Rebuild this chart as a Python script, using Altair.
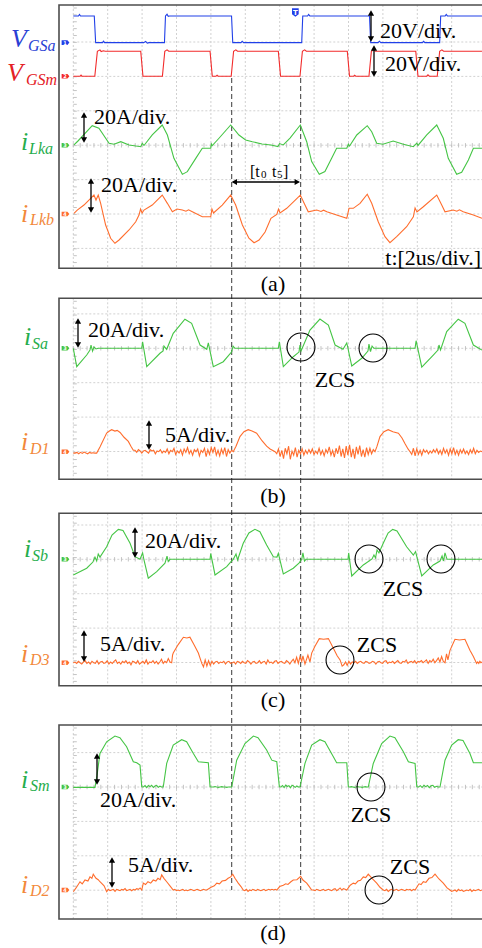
import altair as alt
import pandas as pd

# ===================== DATA: scope readings (time in µs, 2 µs/div) =====================
# gate voltages (V, 20 V/div)
VGSA = [(0, 15.5), (0.30, 15.5), (0.36, 16.4), (0.42, 15.5), (1.22, 15.5), (1.30, 0), (1.70, 0), (1.76, 0.8),
        (1.82, 0), (4.10, 0), (4.20, 0.7), (4.30, -0.3), (4.40, 0), (5.30, 0), (5.36, 15.5), (5.45, 16.5),
        (5.52, 15.3), (5.60, 15.5), (9.20, 15.5), (9.27, 0), (9.75, 0), (9.82, 0.8), (9.90, 0), (13.28, 0),
        (13.34, 15.5), (13.62, 15.5), (13.68, 16.4), (13.75, 15.5), (17.22, 15.5), (17.29, 0), (17.72, 0),
        (17.80, 0.8), (17.88, 0), (20.30, 0), (20.37, 0.7), (20.44, 0), (21.30, 0), (21.36, 15.5),
        (21.62, 15.5), (21.68, 16.4), (21.75, 15.5), (23.76, 15.5)]
VGSM = [(0, 0), (0.40, 0), (0.45, 0.6), (0.50, 0), (1.25, 0), (1.40, 14.5), (1.55, 15.3), (1.62, 14.3),
        (1.75, 14.8), (1.85, 14.5), (3.92, 14.5), (4.05, 0), (5.18, 0), (5.32, 14.5), (5.45, 15.3),
        (5.55, 14.5), (7.95, 14.5), (8.08, 0), (8.30, 0), (8.36, 0.6), (8.42, 0), (9.18, 0), (9.32, 14.5),
        (9.45, 15.3), (9.55, 14.5), (11.92, 14.5), (12.05, 0), (13.18, 0), (13.32, 14.5), (13.45, 15.3),
        (13.55, 14.5), (15.93, 14.5), (16.06, 0), (16.30, 0), (16.36, 0.6), (16.42, 0), (17.19, 0),
        (17.33, 14.5), (17.46, 15.3), (17.56, 14.5), (19.91, 14.5), (20.04, 0), (20.55, 0), (20.62, 0.8),
        (20.70, 0), (21.16, 0), (21.30, 14.5), (21.43, 15.3), (21.53, 14.5), (23.76, 14.5)]
# resonant inductor currents (A, 20 A/div)
ILKA = [(0.04, 0.2), (0.27, 2.5), (1.10, 11.4), (1.49, 9.9), (2.08, 1.2), (2.37, 0.6), (2.76, 2.1), (3.24, 0.2),
        (3.92, -0.8), (4.01, 1.2), (4.11, -0.1), (4.59, 6.0), (5.17, 11.8), (5.47, 6.0), (5.85, -7.6),
        (6.34, -16.9), (6.63, -15.3), (7.12, -7.6), (7.50, -1.7), (7.99, -1.7), (8.03, 0.8), (8.08, -0.2),
        (8.47, 4.1), (9.15, 11.8), (9.63, 6.0), (10.02, 3.1), (10.41, 2.1), (10.97, 0.8), (11.49, 0.2),
        (11.90, -0.7), (11.99, 1.0), (12.21, 0.2), (12.60, 4.2), (13.20, 11.8), (13.57, 2.1), (13.86, -9.5),
        (14.30, -16.9), (14.63, -15.3), (15.02, -7.6), (15.31, -1.7), (15.90, -1.7), (15.99, 0.6),
        (16.06, -0.4), (16.48, 6.0), (17.09, 11.4), (17.35, 7.9), (17.64, 1.2), (18.00, 0.6), (18.60, 2.5),
        (19.19, 0.6), (19.77, -0.8), (19.97, 1.2), (20.04, -0.1), (20.55, 6.0), (21.13, 11.8), (21.51, 4.1),
        (21.80, -7.6), (22.29, -16.9), (22.58, -15.7), (22.97, -8.5), (23.26, -1.7), (23.76, -1.7)]
ILKB = [(0.04, 0.4), (0.23, 2.3), (0.62, 5.2), (1.01, 9.1), (1.20, 11.0), (1.32, 8.1), (1.45, 11.0), (1.59, 6.2),
        (1.88, -6.4), (2.17, -14.1), (2.42, -17.0), (2.66, -15.1), (3.24, -9.3), (3.63, -4.5), (3.82, -0.6),
        (3.91, 2.9), (4.00, 0.6), (4.11, 2.3), (4.59, 5.2), (5.17, 11.0), (5.47, 6.2), (5.76, 1.3), (6.03, 2.9),
        (6.34, 2.3), (6.55, 1.6), (6.70, 2.4), (6.92, 1.3), (7.50, -1.6), (7.99, -1.6), (8.06, 2.9), (8.15, 0.6),
        (8.66, 5.2), (9.15, 11.0), (9.44, 5.2), (9.83, -6.4), (10.21, -14.1), (10.51, -16.7), (10.80, -15.1),
        (11.15, -10.5), (11.49, -2.5), (11.83, -0.2), (11.93, 2.9), (12.02, 0.6), (12.41, 3.3), (13.20, 11.0),
        (13.47, 5.2), (13.66, 1.3), (14.15, 2.3), (14.40, 1.5), (14.55, 2.2), (14.74, 1.3), (15.31, -0.6),
        (15.90, -2.5), (16.03, 3.3), (16.28, 3.3), (16.67, 6.2), (17.09, 11.5), (17.35, 6.2), (17.73, -4.5),
        (18.12, -13.2), (18.41, -16.7), (18.80, -13.2), (19.38, -7.4), (19.77, -1.6), (19.87, 3.5),
        (19.98, 1.2), (20.35, 4.2), (21.13, 11.0), (21.42, 5.2), (21.61, 1.3), (22.09, 2.3), (22.30, 1.6),
        (22.45, 2.4), (22.67, 1.3), (23.26, -0.6), (23.76, -2.5)]
# switch currents (A, 20 A/div)
ISA = [(0, 0), (0.20, -10.7), (0.78, -3.9), (0.97, -1.0), (1.03, 1.9), (1.12, -1.6), (1.20, 0.8), (1.32, -0.4),
       (1.45, 0), (3.98, 0), (4.03, 3.8), (4.27, -10.7), (5.04, -2.9), (5.22, -1.6), (5.27, 1.3), (5.43, -0.6),
       (5.81, 8.7), (6.49, 16.9), (6.88, 14.5), (7.37, 1.9), (7.76, -0.6), (7.85, 3.1), (8.14, -10.7),
       (8.72, -7.8), (9.21, -2.0), (9.29, 1.3), (9.40, 0), (11.92, 0), (11.98, 3.8), (12.21, -10.7),
       (12.79, -4.9), (13.12, -2.2), (13.18, 1.9), (13.24, -1.6), (13.76, 10.6), (14.34, 17.0), (14.83, 13.5),
       (15.22, 1.9), (15.68, -0.6), (15.90, 3.1), (16.19, -10.3), (16.77, -5.8), (17.13, -1.6), (17.19, 2.5),
       (17.28, -1.9), (17.37, 1.3), (17.48, 0), (19.87, 0), (19.93, 4.4), (20.26, -11.0), (20.93, -3.9),
       (21.20, -1.0), (21.26, 1.9), (21.35, -1.0), (21.71, 9.7), (22.38, 16.9), (22.77, 14.5), (23.26, 1.9),
       (23.76, -1.0)]
ISB = [(0, -9.1), (0.78, -5.2), (1.14, -1.6), (1.26, 1.3), (1.36, -1.0), (1.45, 3.1), (1.55, 1.3), (1.94, 7.3),
       (2.25, 14.1), (2.62, 17.4), (2.89, 16.7), (3.30, 9.3), (3.59, 1.5), (3.88, 0), (4.03, 3.7), (4.11, -0.4),
       (4.36, -11.0), (4.85, -7.2), (5.33, -2.3), (5.45, 1.9), (5.52, -1.3), (5.62, 0), (7.95, 0), (7.99, 3.4),
       (8.24, -9.1), (8.92, -4.3), (9.17, -1.3), (9.30, 0), (9.46, 3.1), (9.55, -0.4), (9.88, 9.3),
       (10.21, 15.3), (10.56, 17.4), (10.85, 16.0), (11.24, 8.3), (11.63, 1.5), (11.84, 1.3), (11.92, 3.4),
       (12.21, -8.5), (12.79, -5.2), (13.12, -2.2), (13.28, 0), (13.35, 3.7), (13.44, -1.0), (13.53, 0),
       (15.97, 0), (16.01, 3.7), (16.19, -9.7), (16.86, -3.3), (17.37, 0.2), (17.48, 2.5), (17.57, 0.8),
       (17.66, 5.4), (17.77, 3.7), (18.02, 9.3), (18.30, 15.3), (18.57, 17.4), (18.82, 16.5), (19.38, 7.3),
       (19.77, 2.5), (19.90, 4.5), (19.98, 1.3), (20.26, -9.7), (20.93, -3.3), (21.32, -1.0), (21.44, 1.9),
       (21.52, -1.0), (21.61, 3.7), (21.73, 0), (23.76, 0)]
ISM = [(0, -0.2), (1.26, -0.2), (1.38, 6.9), (1.55, 19.5), (1.94, 26.3), (2.42, 29.6), (2.71, 28.7), (3.10, 23.4),
       (3.49, 14.7), (3.69, 14.1), (3.88, 12.7), (3.98, 0.1), (5.23, 0), (5.43, 13.7), (5.81, 24.4), (6.30, 27.5),
       (6.59, 26.3), (6.98, 19.5), (7.27, 14.7), (7.85, 14.1), (7.95, 0.1), (9.21, 0), (9.50, 15.6), (9.98, 25.3),
       (10.47, 29.6), (10.74, 28.7), (11.24, 21.5), (11.54, 15.6), (11.83, 14.7), (11.98, 0.1), (13.18, 0),
       (13.47, 13.7), (13.86, 24.4), (14.34, 27.5), (14.63, 26.3), (15.12, 17.6), (15.31, 14.1), (15.90, 14.1),
       (15.99, 0.1), (17.15, 0), (17.44, 13.7), (17.93, 25.3), (18.41, 29.6), (18.70, 28.7), (19.19, 20.5),
       (19.48, 14.7), (19.87, 13.7), (19.97, 0.1), (21.32, 0), (21.61, 15.6), (22.00, 24.4), (22.38, 27.5),
       (22.66, 27.0), (23.06, 19.5), (23.26, 14.1), (23.76, 14.1)]
ISM_NOISE = [(3.98, 5.23, [0.0, 0.8, -0.4, 0.9, 0.2, 1.0, -0.3, 0.6, 0.9, -0.2, 0.5, 0.0]),
             (7.95, 9.21, [0.0, 0.0, 0.3, 0.0, -0.2, 0.0, 0.2, 0.0, 0.0, -0.2, 0.0, 0.0]),
             (11.98, 13.18, [0.0, 0.9, -0.3, 1.1, 0.3, 0.8, -0.4, 1.0, 0.5, -0.2, 0.6, 0.0]),
             (15.99, 17.15, [0.0, 0.2, 0.0, -0.2, 0.0, 0.3, 0.0, 0.0, -0.2, 0.0, 0.2, 0.0]),
             (19.97, 21.32, [0.0, 0.8, -0.3, 1.0, 0.2, 0.9, -0.4, 0.7, 1.0, -0.2, 0.4, 0.0])]
# diode currents (A, 5 A/div)
ID1 = [(0, -0.2), (1.36, -0.2), (1.55, 0.7), (1.94, 2.7), (2.10, 3.0), (2.23, 3.2), (2.42, 3.0), (2.55, 3.1),
       (2.72, 2.8), (2.95, 2.1), (3.20, 1.5), (3.35, 0.8), (3.49, 0.2), (9.30, 0), (9.46, 0.8), (9.69, 2.2),
       (9.92, 2.9), (10.17, 3.2), (10.39, 3.0), (10.66, 2.7), (10.97, 1.6), (11.24, 0.8), (11.44, 0.4),
       (11.73, 0), (17.54, 0), (17.66, 0.8), (17.83, 2.2), (18.06, 2.9), (18.31, 3.2), (18.58, 2.9),
       (18.90, 2.7), (19.11, 2.0), (19.28, 1.2), (19.46, 0.4), (19.58, 0), (23.76, 0)]
ID1_NOISE = [
    (0.0, 1.36, [-0.2, -0.1, -0.3, -0.1, -0.25, -0.05, -0.2, -0.3, -0.1, -0.2, -0.15, -0.2]),
    (3.49, 9.30, [0.2, -0.1, 0.3, 0.1, -0.2, 0.1, 0.2, 0.0, -0.2, 0.3, 0.1, 0.2, -0.3, 0.1, 0.0, 0.3, -0.2,
                  0.1, -0.1, 0.4, -0.3, 0.2, 0.0, 0.5, -0.4, 0.1, -0.2, 0.3, -0.5, 0.4, -0.1, 0.6, -0.3, 0.2,
                  -0.5, 0.3, 0.0, 0.4, -0.6, 0.2, -0.1, 0.5, -0.7, 0.3, -0.4, 0.6, -0.1, 0.7, -0.5, 0.2, -0.6,
                  0.4, -0.3, 0.6, -0.7, 0.3, -0.2, 0.2]),
    (11.73, 17.54, [-0.3, 0.4, -0.7, 0.2, -1.0, 0.5, -0.3, 0.8, -1.1, 0.1, -0.5, 0.6, -0.8, 0.2, -0.3, 0.4, -0.5,
                    0.2, -0.3, 0.3, -0.2, 0.4, -0.4, 0.1, -0.3, 0.5, -0.4, 0.2, -0.6, 0.3, -0.2, 0.7, -0.5, 0.2,
                    -0.8, 0.5, -0.3, 0.9, -0.7, 0.4, -0.9, 0.8, -0.5, 1.0, -0.8, 0.4, -1.0, 0.7, -0.4, 0.9, -0.7,
                    0.3, -0.8, 0.6, -0.4, 0.5, -0.3, 0.3]),
    (19.58, 23.76, [-0.4, 0.5, -0.6, 0.4, -0.4, 0.2, -0.5, 0.3, -0.1, 0.2, -0.3, 0.1, -0.2, 0.3, -0.1, 0.4, -0.3,
                    0.2, -0.4, 0.5, -0.2, 0.3, -0.5, 0.4, -0.3, 0.6, -0.4, 0.2, -0.5, 0.3, -0.2, 0.4, -0.3, 0.1,
                    -0.4, 0.3, -0.2, 0.5, -0.3, 0.2, -0.1, 0.1])]
ID3 = [(0, 0), (5.72, 0), (5.77, 1.1), (5.81, 1.4), (6.09, 2.6), (6.40, 3.7), (6.60, 3.6), (6.78, 3.7),
       (7.02, 2.6), (7.27, 1.4), (7.47, -0.1), (13.28, 0.2), (13.35, 1.0), (13.47, -0.2), (13.64, 1.1),
       (13.76, 0.1), (13.86, 1.4), (14.05, 2.4), (14.30, 3.5), (14.55, 3.4), (14.83, 3.5), (15.12, 2.1),
       (15.34, 1.0), (15.51, 0.4), (15.63, -0.5), (21.61, 0), (21.70, 1.3), (21.78, 0.4), (21.90, 1.8),
       (22.19, 3.4), (22.45, 3.3), (22.77, 3.4), (23.06, 1.8), (23.26, 0.9), (23.45, -0.1), (23.76, 0.1)]
ID3_NOISE = [
    (0.0, 5.72, [0.1, -0.1, 0.2, 0.0, -0.2, 0.1, 0.3, -0.1, 0.1, -0.2, 0.2, 0.0, -0.1, 0.3, -0.2, 0.1, 0.2, -0.1,
                 0.0, 0.3, -0.2, 0.1, -0.1, 0.2, 0.4, -0.1, 0.1, -0.2, 0.2, 0.0, 0.3, -0.1, 0.1, -0.3, 0.2, 0.1,
                 -0.1, 0.3, -0.2, 0.0, 0.2, -0.1, 0.4, -0.2, 0.1, 0.0, 0.3, -0.1, 0.2, -0.2, 0.1, 0.5, -0.1, 0.2,
                 0.0, 0.6, 0.1]),
    (7.47, 13.28, [-0.6, 0.4, -0.5, 0.3, -0.4, 0.2, -0.2, 0.1, 0.2, -0.1, 0.1, 0.0, 0.2, -0.2, 0.1, 0.2, -0.1, 0.0,
                   0.1, -0.2, 0.2, 0.1, -0.1, 0.2, 0.0, -0.1, 0.3, 0.1, -0.2, 0.1, 0.2, -0.1, 0.0, 0.3, -0.1, 0.1,
                   0.2, -0.2, 0.4, 0.0, 0.1, -0.1, 0.2, 0.3, -0.1, 0.1, 0.2, 0.0, -0.1, 0.3, 0.1, -0.2, 0.2, 0.5,
                   0.0, 0.8, -0.1, 0.9]),
    (15.63, 21.61, [-0.3, 0.1, -0.4, 0.2, -0.2, 0.1, 0.0, 0.2, -0.1, 0.1, 0.2, 0.0, -0.1, 0.2, 0.1, -0.1, 0.0,
                    0.2, 0.1, -0.2, 0.1, 0.2, 0.0, -0.1, 0.2, 0.3, -0.1, 0.1, 0.0, 0.2, -0.1, 0.1, 0.3, 0.0, -0.1,
                    0.2, 0.1, 0.4, -0.1, 0.1, 0.2, 0.0, 0.3, -0.1, 0.2, 0.1, 0.3, 0.0, 0.2, 0.4, -0.1, 0.3, 0.1,
                    0.5, 0.0, 0.3, 0.7, 0.1, 0.9, 0.2]),
    (23.45, 23.76, [0.1, -0.1, 0.2, 0.0])]
ID2 = [(0, -0.25), (0.16, 0.3), (0.39, 1.2), (0.52, 0.9), (0.68, 1.45), (0.85, 1.3), (0.97, 1.9), (1.08, 1.7),
       (1.16, 2.3), (1.32, 1.7), (1.45, 1.5), (1.55, 1.2), (1.79, 0.6), (1.94, -0.25), (3.98, 0), (4.07, 1.0),
       (4.20, 0.8), (4.34, 1.2), (4.50, 1.0), (4.65, 1.45), (4.80, 1.3), (4.92, 1.7), (5.05, 1.5), (5.14, 2.2),
       (5.27, 1.7), (5.43, 1.2), (5.62, 0.6), (5.81, 0), (7.76, 0), (8.01, 0.4), (8.20, 0.6), (8.34, 1.0),
       (8.50, 0.9), (8.65, 1.3), (8.85, 1.4), (9.00, 1.7), (9.15, 1.9), (9.27, 2.3), (9.40, 1.7), (9.59, 1.0),
       (9.75, 0.5), (9.88, 0), (11.83, 0), (12.00, 0.5), (12.21, 0.7), (12.35, 0.9), (12.48, 0.8),
       (12.65, 1.2), (12.79, 1.45), (13.00, 1.5), (13.22, 2.0), (13.35, 1.45), (13.57, 1.0), (13.72, 0.5),
       (13.86, 0), (15.90, 0), (16.10, 0.7), (16.28, 1.0), (16.40, 0.9), (16.55, 1.3), (16.70, 1.4),
       (16.86, 1.9), (17.00, 1.8), (17.15, 2.3), (17.37, 1.7), (17.64, 1.0), (17.83, 0.4), (18.02, 0),
       (19.87, 0), (20.10, 0.9), (20.22, 0.8), (20.35, 1.2), (20.50, 1.1), (20.68, 1.7), (20.85, 1.8),
       (21.03, 2.3), (21.26, 1.6), (21.51, 1.0), (21.73, 0.3), (21.90, 0), (23.76, 0)]
ID2_NOISE = [
    (1.94, 3.98, [0.1, -0.1, 0.0, 0.1, -0.2, 0.1, 0.0, -0.1, 0.1, 0.0, 0.2, -0.1, 0.0, 0.1, -0.1, 0.1, 0.0, 0.2, 0.1, 0.3]),
    (5.81, 7.76, [0.1, -0.1, 0.0, -0.1, 0.0, 0.1, -0.1, 0.0, -0.1, 0.0, 0.1, 0.0, -0.1, 0.0, 0.1, 0.0, -0.1, 0.0, 0.1, 0.0]),
    (9.88, 11.83, [-0.1, 0.1, -0.2, 0.0, -0.1, 0.1, 0.0, -0.1, 0.1, 0.0, -0.1, 0.0, 0.1, -0.1, 0.0, 0.1, 0.0, 0.1, 0.0, 0.1]),
    (13.86, 15.90, [0.0, -0.1, 0.1, 0.0, -0.1, 0.0, 0.1, -0.1, 0.0, 0.1, 0.0, -0.1, 0.1, 0.2, -0.1, 0.1, 0.3, 0.0, 0.2, 0.1]),
    (18.02, 19.87, [-0.1, 0.1, -0.2, 0.0, 0.1, -0.1, 0.0, 0.1, -0.1, 0.0, 0.1, 0.0, -0.1, 0.1, 0.0, 0.1, -0.1, 0.1]),
    (21.90, 23.76, [-0.2, -0.1, 0.0, -0.2, 0.1, -0.1, 0.0, -0.2, -0.1, 0.0, -0.1, 0.1, -0.2, 0.0, -0.1, 0.0, 0.1, -0.1])]

T0_US, T5_US = 9.21, 13.22      # interval [t0 t5]

# ===================== LAYOUT (pixels of the 482 x 948 figure) =====================
W, H = 482, 948
U = 34.4          # px per graticule division
X0 = 73.3         # px of t = 0 (left graticule line)
US_PER_DIV = 2.0


def tx(px):
    return (px - X0) / U * US_PER_DIV


def ty(py):
    return py / U


BLUE, RED, GREEN, ORANGE = "#2140e8", "#f22b2b", "#45c545", "#ff6d2d"
LBLUE, LRED, LGREEN, LORANGE = "#2a3fd4", "#e42126", "#25ad4c", "#f2883a"

# name, data, noise, baseline px, units/div, colour, channel number
CHANNELS = [
    ("VGSa", VGSA, [], 42.6, 20, BLUE, "1"),
    ("VGSm", VGSM, [], 76.2, 20, RED, "2"),
    ("iLka", ILKA, [], 145.3, 20, GREEN, "3"),
    ("iLkb", ILKB, [], 214.0, 20, ORANGE, "4"),
    ("iSa", ISA, [], 348.3, 20, GREEN, "3"),
    ("iD1", ID1, ID1_NOISE, 451.7, 5, ORANGE, "4"),
    ("iSb", ISB, [], 559.3, 20, GREEN, "3"),
    ("iD3", ID3, ID3_NOISE, 662.7, 5, ORANGE, "4"),
    ("iSm", ISM, ISM_NOISE, 787.0, 20, GREEN, "3"),
    ("iD2", ID2, ID2_NOISE, 890.0, 5, ORANGE, "4"),
]

PANELS = [
    dict(top=5.0, bot=268.3, h=[42.0, 76.4, 110.8, 145.2, 179.6, 214.0, 248.4], center=145.3),
    dict(top=298.3, bot=479.3, h=[313.9, 348.3, 382.7, 417.1, 451.5], center=348.3),
    dict(top=513.3, bot=685.7, h=[525.0, 559.3, 593.7, 628.1, 662.5], center=559.3),
    dict(top=725.0, bot=919.0, h=[752.6, 787.0, 821.4, 855.8, 890.2], center=787.0),
]

TEXTS = [  # text, x px, y px (middle), align
    ("20V/div.", 380, 31, "left"), ("20V/div.", 385, 64, "left"),
    ("20A/div.", 94, 117, "left"), ("20A/div.", 101, 185, "left"),
    ("t:[2us/div.]", 481, 258, "right"), ("(a)", 273, 284, "center"),
    ("20A/div.", 88, 330, "left"), ("5A/div.", 165, 435, "left"),
    ("ZCS", 335, 380, "center"), ("(b)", 273, 496, "center"),
    ("20A/div.", 145, 541, "left"), ("ZCS", 403, 589, "center"),
    ("5A/div.", 100, 644, "left"), ("ZCS", 377, 645, "center"), ("(c)", 273, 700, "center"),
    ("20A/div.", 100, 800, "left"), ("ZCS", 371, 815, "center"),
    ("5A/div.", 128, 865, "left"), ("ZCS", 410, 867, "center"), ("(d)", 273, 933, "center"),
]
T05 = [("[t", 250, 172, 16), ("0", 261, 175, 11), ("t", 272, 172, 16), ("5", 277, 175, 11), ("]", 283, 172, 16)]

LABELS = [  # main, sub, x px, baseline px, sub x px, sub baseline px, colour
    ("V", "GSa", 11, 47, 28, 51, LBLUE), ("V", "GSm", 7, 81, 26, 85, LRED),
    ("i", "Lka", 21, 150, 29, 154, LGREEN), ("i", "Lkb", 21, 222, 30, 225, LORANGE),
    ("i", "Sa", 24, 345, 32, 349, LGREEN), ("i", "D1", 21, 450, 30, 454, LORANGE),
    ("i", "Sb", 24, 557, 32, 561, LGREEN), ("i", "D3", 21, 662, 30, 665, LORANGE),
    ("i", "Sm", 21, 788, 30, 791, LGREEN), ("i", "D2", 21, 893, 30, 896, LORANGE),
]

V_ARROWS = [(371, 10, 42), (374, 45, 77), (84, 112, 143), (91, 178, 213), (78, 318, 348),
            (149, 420, 450), (135, 527, 558), (84, 630, 662), (97, 753, 785), (112, 857, 888)]
H_ARROWS = [(182, 231.3, 300.3)]
CIRCLES = [(301, 347), (373, 348), (369, 559), (441, 559), (340, 660), (371, 787), (379, 890)]

# ===================== build tables =====================
rows = []
for name, data, noise, base, per, col, num in CHANNELS:
    pts = list(data)
    for t0, t1, vals in noise:
        n = len(vals)
        for i, v in enumerate(vals):
            pts.append((t0 + (t1 - t0) * (i + 1) / (n + 1), v))
    pts.sort()
    for t, v in pts:
        rows.append(dict(ch=name, t=t, y=ty(base) - v / per))
traces = pd.DataFrame(rows)

GRID_T = [US_PER_DIV * k for k in range(12)]
vgrid = pd.DataFrame([dict(x=t, y=ty(p["top"]), y2=ty(p["bot"])) for p in PANELS for t in GRID_T])
hgrid = pd.DataFrame([dict(x=0.0, x2=tx(W), y=ty(h)) for p in PANELS for h in p["h"]])
cticks = pd.DataFrame([dict(x=0.4 * k, y=ty(p["center"] - 2.2), y2=ty(p["center"] + 2.2))
                       for p in PANELS for k in range(60)])
lticks = []
for p in PANELS:
    yy = p["top"] + 3
    while yy < p["bot"] - 2:
        lticks.append(dict(x=0.0, x2=tx(X0 + 3.5), y=ty(yy)))
        yy += U / 5
lticks = pd.DataFrame(lticks)
boxes = pd.DataFrame([dict(x=tx(59), x2=tx(W + 20), y=ty(p["top"]), y2=ty(p["bot"])) for p in PANELS])
dashed = pd.DataFrame([dict(x=t, y=ty(78), y2=ty(890)) for t in (T0_US, T5_US)])
markers = pd.DataFrame([dict(x=tx(65.5), y=ty(base), color=col, num=num)
                        for name, data, noise, base, per, col, num in CHANNELS])

arr = []
heads = []
for x, y1, y2 in V_ARROWS:
    arr.append(dict(x=tx(x), x2=tx(x), y=ty(y1 + 2), y2=ty(y2 - 2)))
    heads += [dict(x=tx(x), y=ty(y1 + 3), shape="triangle-up"), dict(x=tx(x), y=ty(y2 - 3), shape="triangle-down")]
for y, x1, x2 in H_ARROWS:
    arr.append(dict(x=tx(x1 + 2), x2=tx(x2 - 2), y=ty(y), y2=ty(y)))
    heads += [dict(x=tx(x1 + 3), y=ty(y), shape="triangle-left"), dict(x=tx(x2 - 3), y=ty(y), shape="triangle-right")]
arr = pd.DataFrame(arr)
heads = pd.DataFrame(heads)
circ = pd.DataFrame([dict(x=tx(x), y=ty(y)) for x, y in CIRCLES])

texts = pd.DataFrame([dict(text=s, x=tx(x), y=ty(y), align=a) for s, x, y, a in TEXTS])
t05 = pd.DataFrame([dict(text=s, x=tx(x), y=ty(y), size=z) for s, x, y, z in T05])
lab = pd.DataFrame([dict(text=m, x=tx(x), y=ty(b), size=26, color=c) for m, s, x, b, sx, sb, c in LABELS] +
                   [dict(text=s, x=tx(sx), y=ty(sb), size=16, color=c) for m, s, x, b, sx, sb, c in LABELS])
trig = pd.DataFrame([dict(x=T0_US + 3.7, y=ty(12.5))])

# ===================== chart =====================
xs = alt.Scale(domain=[tx(0), tx(W)], nice=False, zero=False)
ys = alt.Scale(domain=[0, H / U], reverse=True, nice=False, zero=False)
X = alt.X("x:Q", scale=xs, axis=None)
Y = alt.Y("y:Q", scale=ys, axis=None)
SERIF = "'Liberation Serif', 'Times New Roman', 'DejaVu Serif', serif"

layers = [
    alt.Chart(vgrid).mark_rule(color="#cccccc", strokeDash=[2, 2], strokeWidth=0.9).encode(x=X, y=Y, y2="y2:Q"),
    alt.Chart(hgrid).mark_rule(color="#cccccc", strokeDash=[2, 2], strokeWidth=0.9).encode(x=X, x2="x2:Q", y=Y),
    alt.Chart(cticks).mark_rule(color="#bdbdbd", strokeWidth=0.9).encode(x=X, y=Y, y2="y2:Q"),
    alt.Chart(lticks).mark_rule(color="#bdbdbd", strokeWidth=0.9).encode(x=X, x2="x2:Q", y=Y),
    alt.Chart(boxes).mark_rect(fill="white", fillOpacity=0, stroke="#4d4d4d", strokeWidth=1.6)
    .encode(x=X, x2="x2:Q", y=Y, y2="y2:Q"),
    alt.Chart(dashed).mark_rule(color="#222222", strokeDash=[5, 3], strokeWidth=0.9).encode(x=X, y=Y, y2="y2:Q"),
    alt.Chart(traces).mark_line(strokeWidth=1.1).encode(
        x=alt.X("t:Q", scale=xs, axis=None), y=Y, order="t:Q",
        color=alt.Color("ch:N", legend=None,
                        scale=alt.Scale(domain=[c[0] for c in CHANNELS], range=[c[5] for c in CHANNELS]))),
    alt.Chart(markers).mark_point(shape="M-1,-0.6L0.5,-0.6L1,0L0.5,0.6L-1,0.6Z", filled=True, size=60, opacity=1)
    .encode(x=X, y=Y, color=alt.Color("color:N", scale=None)),
    alt.Chart(markers).mark_text(fontSize=5, color="white", font="DejaVu Sans", fontWeight="bold", dx=-0.5)
    .encode(x=X, y=Y, text="num:N"),
    alt.Chart(trig).mark_point(shape="M-0.8,-1L0.8,-1L0.8,0.4L0,1L-0.8,0.4Z", filled=True, size=70, opacity=1,
                               color=BLUE).encode(x=X, y=Y),
    alt.Chart(trig).mark_text(text="T", fontSize=7, color="white", font="DejaVu Sans", fontWeight="bold")
    .encode(x=X, y=Y),
    alt.Chart(arr).mark_rule(color="black", strokeWidth=1.3).encode(x=X, x2="x2:Q", y=Y, y2="y2:Q"),
    alt.Chart(heads).mark_point(filled=True, color="black", size=38, opacity=1)
    .encode(x=X, y=Y, shape=alt.Shape("shape:N", scale=None)),
    alt.Chart(circ).mark_point(shape="circle", filled=False, color="black", strokeWidth=1.1, size=780, opacity=1)
    .encode(x=X, y=Y),
    alt.Chart(t05).mark_text(font=SERIF, color="black", align="left", baseline="middle")
    .encode(x=X, y=Y, text="text:N", size=alt.Size("size:Q", scale=None)),
    alt.Chart(lab).mark_text(font=SERIF, fontStyle="italic", align="left", baseline="alphabetic")
    .encode(x=X, y=Y, text="text:N", size=alt.Size("size:Q", scale=None), color=alt.Color("color:N", scale=None)),
]
for a in ("left", "center", "right"):
    sub = texts[texts["align"] == a]
    layers.append(alt.Chart(sub).mark_text(font=SERIF, fontSize=22, color="black", align=a, baseline="middle")
                  .encode(x=X, y=Y, text="text:N"))

chart = alt.layer(*layers).properties(
    width=W, height=H, autosize=alt.AutoSizeParams(type="none"), padding=0
).configure_view(stroke=None)

chart.save("out.html", embed_options={"renderer": "svg", "actions": False})
